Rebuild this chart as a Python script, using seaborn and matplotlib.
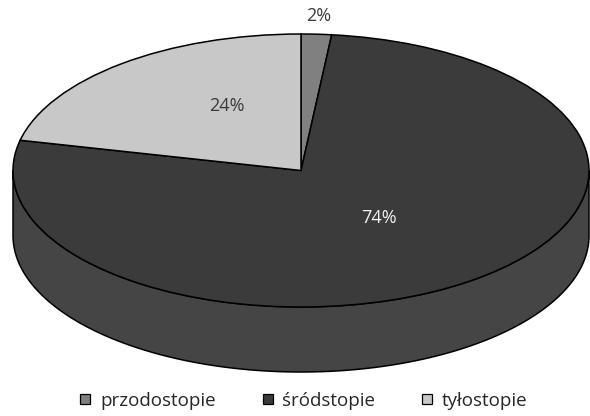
import numpy as np
import matplotlib
matplotlib.use("Agg")
import matplotlib.pyplot as plt
import seaborn as sns
from matplotlib.lines import Line2D
from matplotlib.patches import Polygon, Wedge

# Share of foot strike region (%)
categories = ["przodostopie", "śródstopie", "tyłostopie"]
shares = [2, 74, 24]
pct_labels = ["2%", "74%", "24%"]

top_colors = ["#808080", "#3b3b3b", "#c8c8c8"]
side_colors = ["#8a8a8a", "#454545", "#d2d2d2"]
label_colors = ["#3a3a3a", "#f2f2f2", "#3a3a3a"]

sns.set_theme(style="white")
plt.rcParams["font.family"] = ["Open Sans", "DejaVu Sans"]

W, H = 590, 416
fig = plt.figure(figsize=(W / 100, H / 100), dpi=100)
ax = fig.add_axes([0, 0, 1, 1])
ax.set_axis_off()

# unit disc seen in perspective: ellipse in pixel space
cx, cy, rx, ry = 301, 170.5, 288, 136.5
ax.set_xlim(-cx / rx, (W - cx) / rx)
ax.set_ylim((cy - H) / ry, cy / ry)
depth = 65 / ry
persp = 0.85  # foreshortening of the far half


def view_angle(a):
    """Clockwise angle from the far side (deg) -> apparent angle on the ellipse."""
    h = np.radians(np.asarray(a, float)) / 2
    return 2 * np.degrees(np.arctan2(persp * np.sin(h), np.cos(h)))


bounds = np.concatenate([[0], np.cumsum(shares)]) / sum(shares) * 360
vb = view_angle(bounds)

wedges = []
for i, (fc, sc) in enumerate(zip(top_colors, side_colors)):
    th1, th2 = 90 - vb[i + 1], 90 - vb[i]
    w = Wedge((0, 0), 1, th1, th2, facecolor=fc, edgecolor="black",
              linewidth=1.1, zorder=3)
    ax.add_patch(w)
    wedges.append(w)
    # visible rim (front half of the disc)
    for k in (-1, 0, 1):
        a = max(th1, 180 + 360 * k)
        b = min(th2, 360 + 360 * k)
        if b <= a:
            continue
        t = np.radians(np.linspace(a, b, 300))
        top = np.column_stack([np.cos(t), np.sin(t)])
        bot = np.column_stack([np.cos(t), np.sin(t) - depth])[::-1]
        ax.add_patch(Polygon(np.vstack([top, bot]), closed=True,
                             facecolor=sc, edgecolor="black",
                             linewidth=1.1, zorder=2))

# percentage labels near the middle of each slice
label_r = [1.13, 0.44, 0.54]
label_dtheta = [0.0, 2.4, -10.0]
for i, (txt, col, r, dt) in enumerate(zip(pct_labels, label_colors, label_r, label_dtheta)):
    mid = np.radians(90 - (vb[i] + vb[i + 1]) / 2 + dt)
    ax.text(r * np.cos(mid), r * np.sin(mid), txt, color=col,
            fontsize=13, ha="center", va="center", zorder=5)

handles = [Line2D([], [], linestyle="", marker="s", markersize=7.5,
                  markerfacecolor=w.get_facecolor(), markeredgecolor="black",
                  markeredgewidth=0.9) for w in wedges]
fig.legend(
    handles=handles, labels=categories, loc="center",
    bbox_to_anchor=(0.515, 1 - 401 / H), ncol=3, frameon=False,
    fontsize=13.5, handlelength=0.55, handletextpad=0.5, columnspacing=2.5,
)

fig.savefig("out.png", dpi=100, facecolor="white")
